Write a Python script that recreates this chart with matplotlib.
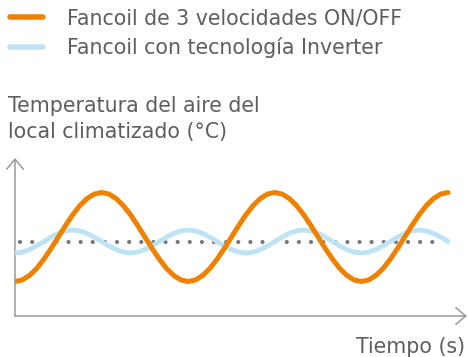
import numpy as np
import matplotlib
matplotlib.use('Agg')
import matplotlib.pyplot as plt
from matplotlib.lines import Line2D

# tiempo (unidades arbitrarias) y temperatura del local (unidades arbitrarias)
tiempo = np.arange(61)
onoff = [3.45, 3.60, 4.05, 4.75, 5.68, 6.75, 7.90, 9.05, 10.13, 11.05, 11.75, 12.20,
         12.35, 12.20, 11.75, 11.05, 10.13, 9.05, 7.90, 6.75, 5.68, 4.75, 4.05, 3.60,
         3.45, 3.60, 4.05, 4.75, 5.68, 6.75, 7.90, 9.05, 10.13, 11.05, 11.75, 12.20,
         12.35, 12.20, 11.75, 11.05, 10.13, 9.05, 7.90, 6.75, 5.68, 4.75, 4.05, 3.60,
         3.45, 3.60, 4.05, 4.75, 5.68, 6.75, 7.90, 9.05, 10.13, 11.05, 11.75, 12.20, 12.35]
inverter = [6.30, 6.39, 6.64, 7.01, 7.45, 7.89, 8.26, 8.51, 8.60, 8.51, 8.26, 7.89, 7.45, 7.01, 6.64, 6.39,
            6.30, 6.39, 6.64, 7.01, 7.45, 7.89, 8.26, 8.51, 8.60, 8.51, 8.26, 7.89, 7.45, 7.01, 6.64, 6.39,
            6.30, 6.39, 6.64, 7.01, 7.45, 7.89, 8.26, 8.51, 8.60, 8.51, 8.26, 7.89, 7.45, 7.01, 6.64, 6.39,
            6.30, 6.39, 6.64, 7.01, 7.45, 7.89, 8.26, 8.51, 8.60, 8.51, 8.26, 7.89, 7.45]
consigna = 7.4
consigna_t = [0.7, 58.0]

etiquetas = ['Fancoil de 3 velocidades ON/OFF', 'Fancoil con tecnología Inverter']
ylabel = 'Temperatura del aire del\nlocal climatizado (°C)'
xlabel = 'Tiempo (s)'

NARANJA = '#ee8200'
AZUL = '#bee3f4'
GRIS_TXT = '#5e5e5e'
GRIS_EJE = '#9a9a9a'
GRIS_PUNTO = '#76767e'

plt.rcParams['font.family'] = ['DejaVu Sans']

W, H = 468, 357
fig = plt.figure(figsize=(W / 100, H / 100), dpi=100)
ax = fig.add_axes([15 / W, (H - 316) / H, 452 / W, 158 / H])
ax.set_xlim(0, 62.63)
ax.set_ylim(0, 15.8)
ax.axis('off')

# ejes con flecha abierta
flecha = dict(arrowstyle='->, head_length=0.36, head_width=0.3', color=GRIS_EJE,
              lw=1.1, shrinkA=0, shrinkB=0, mutation_scale=20)
ax.annotate('', xy=(0, 1), xytext=(0, 0), xycoords='axes fraction', arrowprops=flecha)
ax.annotate('', xy=(1, 0), xytext=(0, 0), xycoords='axes fraction', arrowprops=flecha)

ax.plot(consigna_t, [consigna, consigna], color=GRIS_PUNTO, lw=3.0,
        linestyle=(0, (0.01, 2.9)), dash_capstyle='round', zorder=2)
ax.plot(tiempo, inverter, color=AZUL, lw=3.5, solid_capstyle='round',
        solid_joinstyle='round', zorder=3)
ax.plot(tiempo, onoff, color=NARANJA, lw=3.6, solid_capstyle='round',
        solid_joinstyle='round', zorder=4)

leg = fig.legend([Line2D([], [], color=NARANJA, lw=4, solid_capstyle='round'),
                  Line2D([], [], color=AZUL, lw=4, solid_capstyle='round')],
                 etiquetas, loc='upper left', bbox_to_anchor=(10 / W, 1 - 8 / H),
                 frameon=False, fontsize=14.8, handlelength=1.6, handletextpad=1.15,
                 labelspacing=0.45, borderpad=0, borderaxespad=0)
for t in leg.get_texts():
    t.set_color(GRIS_TXT)

fig.text(8 / W, 1 - 138 / H, ylabel, ha='left', va='baseline', fontsize=14.8,
         color=GRIS_TXT, linespacing=1.4)
fig.text(465 / W, 1 - 353 / H, xlabel, ha='right', va='baseline', fontsize=14.8,
         color=GRIS_TXT)

fig.savefig('out.png', dpi=100)
